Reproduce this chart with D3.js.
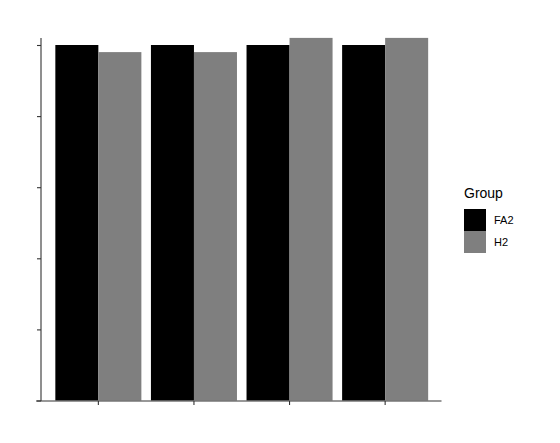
<!DOCTYPE html>
<html><head><meta charset="utf-8">
<script src="https://cdn.jsdelivr.net/npm/d3@7"></script>
<style>body{margin:0;background:#fff}svg{display:block}</style>
</head><body>
<script>
const categories = ["A", "B", "C", "D"];
const groups = ["FA2", "H2"];
const fa2Values = [1.00, 1.00, 1.00, 1.00];
const h2Values = [0.98, 0.98, 1.02, 1.02];
const yTicks = [0, 0.2, 0.4, 0.6, 0.8, 1.0];
const colors = ["#000000", "#7f7f7f"];

const W = 560, H = 443;
const svg = d3.select("body").append("svg").attr("width", W).attr("height", H);

const mLeft = 41, mRight = 442.5, mTop = 38, mBottom = 400.5;
const x = d3.scaleBand().domain(categories).range([mLeft, mRight]).paddingInner(0).paddingOuter(0.1);
const step = x.step();
const xs = d3.scaleBand().domain(groups).range([step * 0.05, step * 0.95]).padding(0);
const y = d3.scaleLinear().domain([0, 1.0]).range([mBottom, 45]);
const color = d3.scaleOrdinal().domain(groups).range(colors);

const data = categories.map((c, i) => ({c, vals: groups.map((gname, j) => ({g: gname, v: [fa2Values, h2Values][j][i]}))}));

svg.append("g").selectAll("g").data(data).join("g")
  .attr("transform", d => `translate(${x(d.c)},0)`)
  .selectAll("rect").data(d => d.vals).join("rect")
  .attr("x", d => xs(d.g))
  .attr("width", xs.bandwidth())
  .attr("y", d => y(d.v))
  .attr("height", d => y(0) - y(d.v))
  .attr("fill", d => color(d.g));

const axStroke = "#333";
// y axis
const yAx = svg.append("g").attr("transform", `translate(${mLeft},0)`)
  .call(d3.axisLeft(y).tickValues(yTicks).tickFormat("").tickSize(4).tickSizeOuter(0));
yAx.select(".domain").remove();
yAx.selectAll("line").attr("stroke", axStroke).attr("stroke-width", 1.1);
svg.append("line").attr("x1", mLeft).attr("x2", mLeft).attr("y1", mTop).attr("y2", mBottom + 0.5)
  .attr("stroke", axStroke).attr("stroke-width", 1.1);

// x axis
const xAx = svg.append("g").attr("transform", `translate(0,${mBottom + 0.5})`)
  .call(d3.axisBottom(x).tickFormat("").tickSize(4).tickSizeOuter(0));
xAx.select(".domain").remove();
xAx.selectAll("line").attr("stroke", axStroke).attr("stroke-width", 1.1);
svg.append("line").attr("x1", 36).attr("x2", 441.5).attr("y1", mBottom + 0.5).attr("y2", mBottom + 0.5)
  .attr("stroke", axStroke).attr("stroke-width", 1.1);

// legend
const lg = svg.append("g");
lg.append("text").attr("x", 464).attr("y", 198).text("Group")
  .attr("font-family", "Liberation Sans, Arial, sans-serif").attr("font-size", 14).attr("fill", "#000");
groups.forEach((gname, i) => {
  lg.append("rect").attr("x", 464).attr("y", 209 + i * 22).attr("width", 22).attr("height", 22)
    .attr("fill", color(gname));
  lg.append("text").attr("x", 494).attr("y", 220 + i * 22).attr("dy", "0.35em").text(gname)
    .attr("font-family", "Liberation Sans, Arial, sans-serif").attr("font-size", 11).attr("fill", "#000");
});
</script>
</body></html>
